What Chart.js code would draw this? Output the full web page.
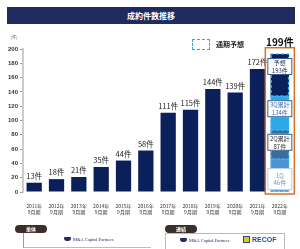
<!DOCTYPE html>
<html>
<head>
<meta charset="utf-8">
<script src="https://cdn.jsdelivr.net/npm/chart.js@4.4.0/dist/chart.umd.min.js"></script>
<style>
  body { margin: 0; width: 300px; height: 249px; background: #fff; overflow: hidden; font-family: "Noto Sans CJK JP", "Noto Sans", sans-serif; }
  #wrap { position: absolute; left: 0; top: 0; width: 300px; height: 249px; }
  .abs { position: absolute; }
  #title { left: 7px; top: 7px; width: 288px; height: 17px; background: #1f2b5e; color: #fff; font-size: 8px; font-weight: bold; line-height: 17px; text-align: center; }
  #unit { left: 11px; top: 34px; font-size: 4px; color: #555; }
  #legBox { left: 192px; top: 39px; width: 16px; height: 9px; border: 1.5px dashed #2aa9e0; border-radius: 1px; }
  #legTxt { left: 216px; top: 39px; font-size: 7px; font-weight: bold; color: #222; }
  .pill { height: 8px; border-radius: 4px; background: #3a2f2b; color: #fff; font-size: 5px; font-weight: bold; line-height: 8px; text-align: center; }
  .logo { font-family: "Liberation Serif", serif; font-size: 4.5px; color: #1f2b5e; white-space: nowrap; }
</style>
</head>
<body>
<div id="wrap">
  <canvas id="chart" width="300" height="249"></canvas>
  <div id="title" class="abs">成約件数推移</div>
  <div id="unit" class="abs">(件)</div>
  <div id="legBox" class="abs"></div>
  <div id="legTxt" class="abs">通期予想</div>

  <div class="abs pill" style="left:15px;top:225px;width:32px;">単体</div>
  <div class="abs" style="left:23px;top:233px;width:127px;height:14px;border-left:1px solid #999;border-bottom:1px solid #bbb;"></div>
  <div class="abs" style="left:64px;top:237px;width:7px;height:4px;background:#1f2b5e;border-radius:1px 1px 3px 3px;"></div>
  <div class="abs logo" style="left:73px;top:237px;">M&amp;A Capital Partners</div>

  <div class="abs pill" style="left:165px;top:225px;width:32px;">連結</div>
  <div class="abs" style="left:165px;top:233px;width:118px;height:16px;border:1px solid #bbb;border-top:1px solid #bbb;"></div>
  <div class="abs" style="left:180px;top:238px;width:7px;height:4px;background:#1f2b5e;border-radius:1px 1px 3px 3px;"></div>
  <div class="abs logo" style="left:189px;top:238px;">M&amp;A Capital Partners</div>
  <div class="abs" style="left:243px;top:236px;width:7px;height:7px;background:#f2c300;border:1px solid #1f4e9a;box-sizing:border-box;"></div>
  <div class="abs" style="left:252px;top:236px;font-size:7px;font-weight:bold;color:#1f4e9a;font-family:'Liberation Sans',sans-serif;">RECOF</div>
</div>
<script>
const categories = [
  ['2011年', '9月期'], ['2012年', '9月期'], ['2013年', '9月期'], ['2014年', '9月期'],
  ['2015年', '9月期'], ['2016年', '9月期'], ['2017年', '9月期'], ['2018年', '9月期'],
  ['2019年', '9月期'], ['2020年', '9月期'], ['2021年', '9月期'], ['2022年', '9月期']
];
const results = [13, 18, 21, 35, 44, 58, 111, 115, 144, 139, 172, null];
// 2022: cumulative values per quarter and forecasts
const cumulative2022 = [46, 87, 134, 193];
const cumulativeLabels = [['1Q', '46件'], ['2Q累計', '87件'], ['3Q累計', '134件'], ['予想', '193件']];
const fullYearForecast = 199;
const yTicks = [0, 20, 40, 60, 80, 100, 120, 140, 160, 180, 200];

const segColors = ['#4a93d2', '#3a6c9c', '#2aa9e8', '#0b1f5b'];
const boxTextColors = ['#6f93bd', '#333333', '#3d6fb2', '#1f2b5e'];

function onlyLast(v) {
  return categories.map((c, i) => i === categories.length - 1 ? v : null);
}

const datasets = [{
  label: '実績',
  data: results,
  backgroundColor: '#0b1f5b',
  borderWidth: 0,
  categoryPercentage: 0.9,
  barPercentage: 0.76
}];
cumulative2022.forEach((v, i) => {
  const prev = i === 0 ? 0 : cumulative2022[i - 1];
  datasets.push({
    label: cumulativeLabels[i].join(''),
    data: onlyLast(v - prev),
    backgroundColor: segColors[i],
    borderWidth: 0,
    categoryPercentage: 0.9,
    barPercentage: 0.92
  });
});

const overlay = {
  id: 'overlay',
  afterDatasetsDraw(chart) {
    const ctx = chart.ctx;
    const y = chart.scales.y;
    const meta0 = chart.getDatasetMeta(0);
    ctx.save();
    // values above bars
    ctx.fillStyle = '#222';
    ctx.font = '7.5px "Noto Sans CJK JP"';
    ctx.textAlign = 'center';
    ctx.textBaseline = 'bottom';
    results.forEach((v, i) => {
      if (v == null) return;
      const bar = meta0.data[i];
      ctx.fillText(v + '件', bar.x, bar.y - 3);
    });

    const last = chart.getDatasetMeta(1).data[categories.length - 1];
    const cx = last.x;
    const w = last.width;
    // dashed borders of the 2022 segments
    ctx.setLineDash([3, 2]);
    ctx.strokeStyle = '#33b5f0';
    ctx.lineWidth = 1.2;
    for (let i = 0; i < cumulative2022.length; i++) {
      const el = chart.getDatasetMeta(i + 1).data[categories.length - 1];
      ctx.strokeRect(el.x - el.width / 2 + 0.6, el.y, el.width - 1.2, el.base - el.y);
    }
    ctx.setLineDash([]);

    // label boxes
    cumulative2022.forEach((v, i) => {
      const top = y.getPixelForValue(v) + (i === 0 ? 9 : 4);
      const bw = 25, bh = i === 0 ? 22 : 17;
      ctx.fillStyle = '#ffffff';
      ctx.fillRect(cx - bw / 2, top, bw, bh);
      ctx.strokeStyle = i === 0 ? '#b9cde4' : '#3d5f8f';
      ctx.lineWidth = 1;
      ctx.strokeRect(cx - bw / 2 + 0.5, top + 0.5, bw - 1, bh - 1);
      ctx.fillStyle = boxTextColors[i];
      ctx.font = '6px "Noto Sans CJK JP"';
      ctx.textBaseline = 'middle';
      ctx.fillText(cumulativeLabels[i][0], cx, top + bh / 2 - 3.5);
      ctx.fillText(cumulativeLabels[i][1], cx, top + bh / 2 + 4);
    });

    // orange frame around full-year forecast
    const fTop = y.getPixelForValue(fullYearForecast) - 2;
    ctx.strokeStyle = '#d8702a';
    ctx.lineWidth = 1.5;
    ctx.strokeRect(cx - 14.5, fTop, 29, y.getPixelForValue(0) + 2 - fTop);
    ctx.fillStyle = '#111';
    ctx.font = 'bold 10px "Noto Sans CJK JP"';
    ctx.textBaseline = 'bottom';
    ctx.fillText(fullYearForecast + '件', cx, fTop - 1);
    ctx.restore();
  }
};

new Chart(document.getElementById('chart'), {
  type: 'bar',
  data: { labels: categories, datasets: datasets },
  options: {
    responsive: false,
    animation: false,
    layout: { padding: { top: 49, bottom: 31, left: 6, right: 9 } },
    plugins: { legend: { display: false }, tooltip: { enabled: false } },
    scales: {
      x: {
        stacked: true,
        grid: { display: false },
        border: { display: false },
        ticks: { color: '#333', font: { size: 5, family: 'Noto Sans CJK JP' }, padding: 3, maxRotation: 0, autoSkip: false }
      },
      y: {
        stacked: true,
        min: 0,
        max: 200,
        afterBuildTicks(axis) { axis.ticks = yTicks.map(v => ({ value: v })); },
        grid: { drawOnChartArea: false, tickLength: 3, color: '#999' },
        border: { display: true, color: '#cccccc', width: 2 },
        ticks: { color: '#333', font: { size: 6, weight: 'bold', family: 'Liberation Sans' }, padding: 2 }
      }
    }
  },
  plugins: [overlay]
});
</script>
</body>
</html>
